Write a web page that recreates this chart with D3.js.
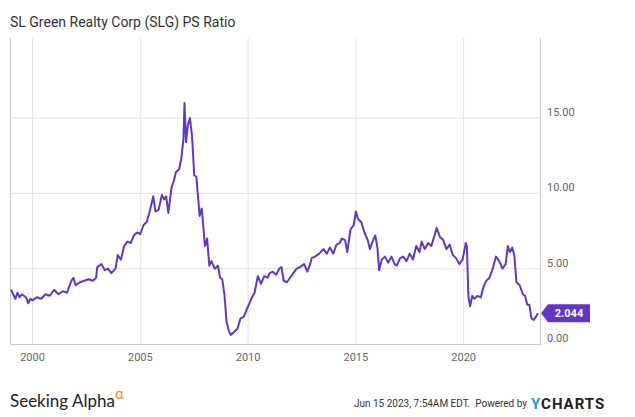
<!DOCTYPE html>
<html><head><meta charset="utf-8">
<script src="https://cdn.jsdelivr.net/npm/d3@7"></script>
<style>body{margin:0;background:#fff;font-family:Roboto,sans-serif}</style>
</head><body><div id="chart"></div>
<script>
// SLG PS ratio: [fractional year, value]
const series = [
  [1999.0,3.6],[1999.1,3.3],[1999.2,3.0],[1999.3,3.4],[1999.4,3.1],[1999.5,3.3],[1999.6,3.2],[1999.7,3.1],[1999.8,2.7],[1999.9,3.0],
  [2000.0,2.9],[2000.2,3.1],[2000.4,3.0],[2000.6,3.3],[2000.8,3.2],[2001.0,3.6],[2001.2,3.3],[2001.4,3.5],[2001.6,3.4],[2001.8,4.2],[2001.9,4.4],
  [2002.0,3.9],[2002.2,4.1],[2002.4,4.2],[2002.6,4.3],[2002.8,4.2],[2002.95,4.4],
  [2003.0,5.1],[2003.2,5.3],[2003.35,4.9],[2003.5,5.0],[2003.65,4.7],[2003.85,5.0],[2003.95,5.9],
  [2004.1,5.6],[2004.25,6.5],[2004.4,6.8],[2004.55,6.7],[2004.7,7.2],[2004.85,7.4],
  [2005.0,7.3],[2005.15,7.9],[2005.3,8.1],[2005.45,8.9],[2005.6,9.8],[2005.7,8.8],[2005.85,8.9],
  [2006.0,9.9],[2006.1,9.6],[2006.2,9.8],[2006.3,8.7],[2006.45,10.4],[2006.55,10.8],[2006.65,11.4],[2006.8,11.6],[2006.9,12.3],
  [2007.0,13.6],[2007.05,16.0],[2007.12,13.4],[2007.2,14.5],[2007.3,15.0],[2007.4,13.8],[2007.5,11.2],[2007.6,11.1],[2007.75,8.5],
  [2007.85,9.0],[2008.0,6.5],[2008.1,7.0],[2008.2,5.2],[2008.3,5.5],[2008.45,5.0],[2008.6,5.2],[2008.7,4.4],[2008.8,4.3],
  [2008.9,3.3],[2009.0,1.5],[2009.1,0.9],[2009.2,0.6],[2009.35,0.8],[2009.5,1.0],[2009.65,1.7],[2009.8,1.8],
  [2010.0,2.5],[2010.15,3.0],[2010.3,3.4],[2010.45,4.5],[2010.6,4.0],[2010.75,4.5],[2010.9,4.4],
  [2011.0,4.7],[2011.15,4.8],[2011.3,4.6],[2011.45,5.0],[2011.55,5.1],[2011.65,4.2],[2011.8,4.1],[2011.95,4.4],
  [2012.1,4.7],[2012.25,5.0],[2012.4,5.1],[2012.6,5.3],[2012.75,4.8],[2012.9,5.4],[2012.95,5.7],
  [2013.1,5.8],[2013.3,6.0],[2013.5,6.3],[2013.65,6.0],[2013.8,6.4],[2013.95,6.0],
  [2014.1,6.6],[2014.25,6.7],[2014.35,7.0],[2014.5,6.9],[2014.6,6.1],[2014.75,7.6],[2014.9,7.9],
  [2015.0,8.8],[2015.1,8.3],[2015.25,8.1],[2015.4,7.4],[2015.55,6.9],[2015.65,6.3],[2015.8,6.9],[2015.9,7.2],
  [2016.0,6.4],[2016.08,4.9],[2016.2,5.6],[2016.35,5.8],[2016.5,5.4],[2016.65,5.8],[2016.8,5.3],[2016.9,5.2],
  [2017.05,5.7],[2017.2,5.8],[2017.35,5.5],[2017.5,6.0],[2017.65,5.6],[2017.8,6.5],[2017.95,6.1],
  [2018.05,6.8],[2018.2,6.3],[2018.35,6.7],[2018.5,6.5],[2018.65,7.2],[2018.75,7.7],[2018.9,7.1],
  [2019.05,6.9],[2019.2,6.3],[2019.35,6.6],[2019.5,5.9],[2019.65,5.7],[2019.8,5.3],[2019.95,5.6],
  [2020.1,6.7],[2020.15,6.5],[2020.22,3.2],[2020.3,2.5],[2020.4,3.2],[2020.5,3.0],[2020.65,3.2],[2020.8,3.1],[2020.9,3.7],
  [2021.05,4.2],[2021.2,4.4],[2021.35,5.0],[2021.5,5.8],[2021.65,5.5],[2021.8,5.0],[2021.95,5.3],
  [2022.05,6.5],[2022.15,6.1],[2022.25,6.4],[2022.35,5.9],[2022.45,4.1],[2022.6,3.9],[2022.75,3.3],[2022.85,3.2],
  [2022.95,2.6],[2023.05,2.6],[2023.15,1.7],[2023.25,1.6],[2023.35,1.8],[2023.45,2.044]
];
const yTicks = [0, 5, 10, 15];
const xTicks = [2000, 2005, 2010, 2015, 2020];

const W = 635, H = 417;
const svg = d3.select('#chart').append('svg').attr('width', W).attr('height', H);
const x = d3.scaleLinear().domain([1999.0, 2023.45]).range([11, 538]);
const y = d3.scaleLinear().domain([0, 15]).range([344, 118]);
const TOP = 38;

svg.append('text').attr('x', 10).attr('y', 27).text('SL Green Realty Corp (SLG) PS Ratio')
  .style('font-size', '14px').style('fill', '#333');

// grid
svg.append('g').selectAll('line').data(yTicks.slice(1)).enter().append('line')
  .attr('x1', 11).attr('x2', 540).attr('y1', d => y(d)).attr('y2', d => y(d))
  .attr('stroke', '#e2e2e2');
svg.append('g').selectAll('line').data(xTicks).enter().append('line')
  .attr('x1', d => x(d)).attr('x2', d => x(d)).attr('y1', TOP).attr('y2', 344)
  .attr('stroke', '#e2e2e2');
svg.append('line').attr('x1', 540.5).attr('x2', 540.5).attr('y1', TOP).attr('y2', 345).attr('stroke', '#ccc');
svg.append('line').attr('x1', 11).attr('x2', 540).attr('y1', 344.5).attr('y2', 344.5).attr('stroke', '#ccc');
svg.append('line').attr('x1', 10.5).attr('x2', 10.5).attr('y1', TOP).attr('y2', 345).attr('stroke', '#ccc');

svg.append('g').selectAll('text').data(yTicks).enter().append('text')
  .attr('x', 547).attr('y', d => y(d) - 2).text(d => d.toFixed(2))
  .style('font-size', '11px').style('fill', '#666');
svg.append('g').selectAll('text').data(xTicks).enter().append('text')
  .attr('x', d => x(d)).attr('y', 361).attr('text-anchor', 'middle').text(d => d)
  .style('font-size', '11px').style('fill', '#666');

svg.append('path').datum(series)
  .attr('d', d3.line().x(d => x(d[0])).y(d => y(d[1])))
  .attr('fill', 'none').attr('stroke', '#6236cc').attr('stroke-width', 2).attr('stroke-linejoin', 'round');

// last value flag
const last = series[series.length - 1][1], ly = y(last);
svg.append('path').attr('d', `M541,${ly} L548,${ly - 9} L590,${ly - 9} L590,${ly + 9} L548,${ly + 9} Z`).attr('fill', '#6236cc');
svg.append('text').attr('x', 569).attr('y', ly + 4).attr('text-anchor', 'middle').text(last.toFixed(3))
  .style('font-size', '11px').style('font-weight', 'bold').style('fill', '#fff');

// footer
const sa = svg.append('text').attr('x', 10).attr('y', 407).style('font-family', 'Lato, sans-serif').style('font-size', '17px').style('fill', '#222');
sa.append('tspan').text('Seeking Alpha');
sa.append('tspan').attr('dy', -8).style('fill', '#f28b20').style('font-size', '15px').text('α');
svg.append('text').attr('x', 527).attr('y', 407).attr('text-anchor', 'end').text('Jun 15 2023, 7:54AM EDT.  Powered by')
  .style('font-size', '10px').style('fill', '#333').attr('xml:space', 'preserve');
const yc = svg.append('text').attr('x', 531).attr('y', 409).style('font-size', '15px').style('font-weight', 'bold').style('letter-spacing', '1px');
yc.append('tspan').style('fill', '#1b9ee0').text('Y');
yc.append('tspan').style('fill', '#222').text('CHARTS');
</script></body></html>
